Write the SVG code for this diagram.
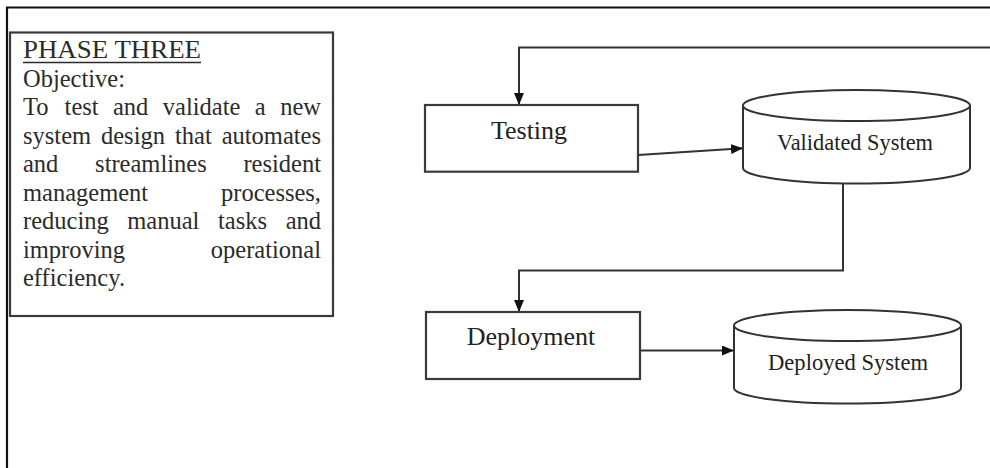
<svg xmlns="http://www.w3.org/2000/svg" width="990" height="468" viewBox="0 0 990 468">
<style>
.frame{fill:none;stroke:#111;stroke-width:2.2}
.box{fill:#fff;stroke:#3a3a3a;stroke-width:2.2}
.cyl{fill:#fff;stroke:#333;stroke-width:2}
.conn{fill:none;stroke:#333;stroke-width:2}
.body{font-family:"Liberation Serif","Times New Roman",serif;font-size:24.5px;fill:#2b2b2b}
.head{font-family:"Liberation Serif","Times New Roman",serif;font-size:25.5px;fill:#2b2b2b}
.lbl{font-family:"Liberation Serif","Times New Roman",serif;font-size:26px;fill:#222;text-anchor:middle}
.lbl2{font-family:"Liberation Serif","Times New Roman",serif;font-size:23px;fill:#222;text-anchor:middle}
</style>
<defs>
<marker id="arr" viewBox="0 0 12 10" refX="12" refY="5" markerWidth="12" markerHeight="10" markerUnits="userSpaceOnUse" orient="auto">
<path d="M0,0 L12,5 L0,10 Z" fill="#111"/>
</marker>
</defs>
<rect width="990" height="468" fill="#fff"/>
<path class="frame" d="M7,468 V7.5 H990"/>

<g id="phase-three">
<rect class="box" x="10" y="32.5" width="323" height="283.5"/>
<text class="head" x="23" y="57.5" textLength="178" lengthAdjust="spacingAndGlyphs">PHASE THREE</text>
<line x1="23" y1="62.5" x2="201" y2="62.5" stroke="#2b2b2b" stroke-width="1.5"/>
<text class="body" x="23" y="86.5">Objective:</text>
<text class="body" y="115"><tspan x="23">To</tspan><tspan x="64.6">test</tspan><tspan x="113">and</tspan><tspan x="162.8">validate</tspan><tspan x="254.8">a</tspan></text>
<text class="body" x="321" y="115" text-anchor="end">new</text>
<text class="body" y="143.5"><tspan x="23">system</tspan><tspan x="101">design</tspan><tspan x="175">that</tspan></text>
<text class="body" x="321" y="143.5" text-anchor="end">automates</text>
<text class="body" y="172"><tspan x="23">and</tspan><tspan x="95.1">streamlines</tspan></text>
<text class="body" x="321" y="172" text-anchor="end">resident</text>
<text class="body" x="23" y="200.5">management</text>
<text class="body" x="321" y="200.5" text-anchor="end">processes,</text>
<text class="body" y="229"><tspan x="23">reducing</tspan><tspan x="127.3">manual</tspan><tspan x="218">tasks</tspan></text>
<text class="body" x="321" y="229" text-anchor="end">and</text>
<text class="body" x="23" y="257.5">improving</text>
<text class="body" x="321" y="257.5" text-anchor="end">operational</text>
<text class="body" x="23" y="286">efficiency.</text>
</g>

<g id="connectors">
<path class="conn" d="M990,47.5 H519 V105" marker-end="url(#arr)"/>
<path class="conn" d="M638,155 L743,148.3" marker-end="url(#arr)"/>
<path class="conn" d="M843,183.5 V270.5 H519 V312" marker-end="url(#arr)"/>
<path class="conn" d="M640,350.5 H734" marker-end="url(#arr)"/>
</g>

<g id="testing">
<rect class="box" x="425" y="105" width="213" height="66.7"/>
<text class="lbl" x="529" y="139">Testing</text>
</g>

<g id="validated-system">
<path class="cyl" d="M743,105.5 V168 A113.5,15.5 0 0 0 970,168 V105.5"/>
<ellipse class="cyl" cx="856.5" cy="105.5" rx="113.5" ry="15.5"/>
<text class="lbl2" x="855" y="150" textLength="156" lengthAdjust="spacingAndGlyphs">Validated System</text>
</g>

<g id="deployment">
<rect class="box" x="426" y="312" width="214" height="67"/>
<text class="lbl" x="531" y="345">Deployment</text>
</g>

<g id="deployed-system">
<path class="cyl" d="M734,325.5 V388 A113.5,15.5 0 0 0 961,388 V325.5"/>
<ellipse class="cyl" cx="847.5" cy="325.5" rx="113.5" ry="15.5"/>
<text class="lbl2" x="848" y="370" textLength="160" lengthAdjust="spacingAndGlyphs">Deployed System</text>
</g>
</svg>
